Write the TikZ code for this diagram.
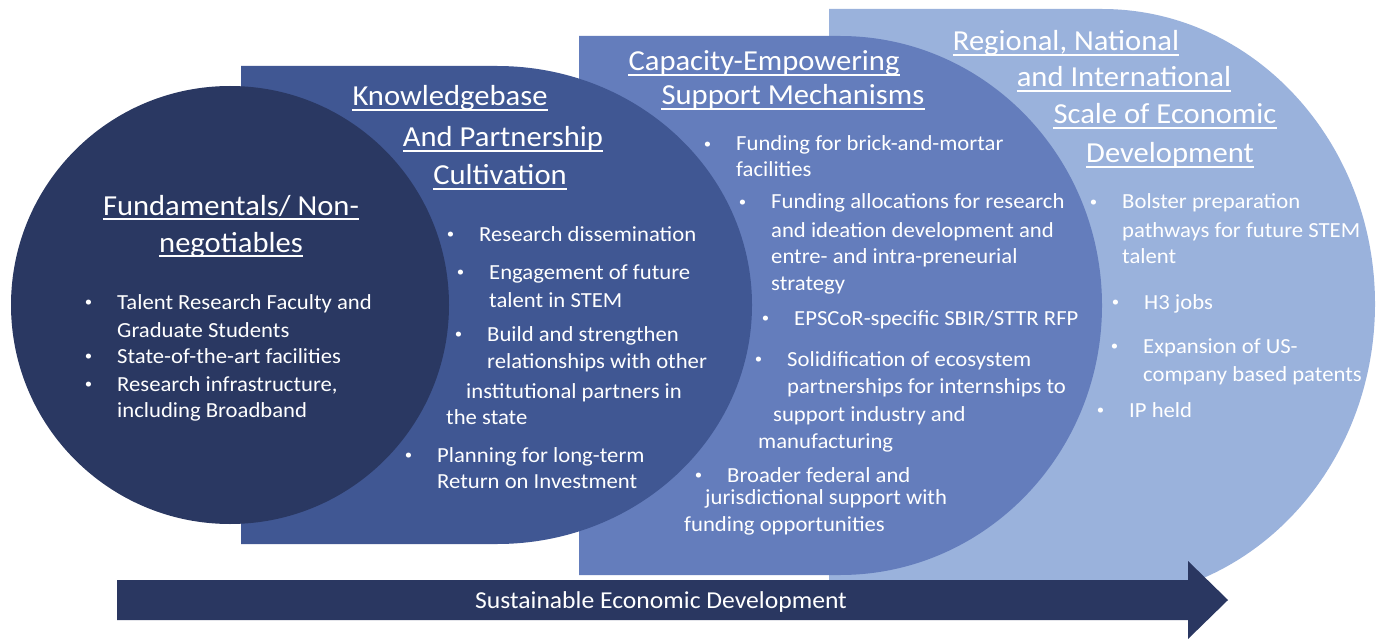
\documentclass[tikz,border=0pt]{standalone}
\usepackage{fontspec}
\setmainfont{Carlito}[FakeStretch=1.055]
\usepackage{tikz}
\usetikzlibrary{calc}
\definecolor{stageOne}{HTML}{2A3862}
\definecolor{stageTwo}{HTML}{405793}
\definecolor{stageThree}{HTML}{647DBC}
\definecolor{stageFour}{HTML}{9AB2DC}
\definecolor{flowNavy}{HTML}{2A3761}
\tikzset{
    x=1pt, y=-1pt,
    headline/.style={anchor=base, text=white, inner sep=0pt, font=\fontsize{29}{35}\selectfont},
    itemline/.style={anchor=base west, text=white, inner sep=0pt, font=\fontsize{21.5}{27}\selectfont},
    rule/.style={draw=white, line width=1.4pt},
}
\newcommand{\bul}{\llap{\raisebox{2.3pt}{\fontsize{14}{14}\selectfont\textbullet}\hspace{25pt}}}

\begin{document}
\begin{tikzpicture}
    \useasboundingbox (0,0) rectangle (1376,639);
    \fill[white] (0,0) rectangle (1376,639);

    % stages, back to front
    \fill[stageFour] (829,9) -- (1102,9) arc[start angle=-90, end angle=90, x radius=273, y radius=295] -- (829,599) -- cycle;
    \fill[stageThree] (579,36) -- (840,36) arc[start angle=-90, end angle=90, x radius=262, y radius=269.5] -- (579,575) -- cycle;
    \fill[stageTwo] (241,66) -- (497,66) arc[start angle=-90, end angle=90, x radius=255, y radius=239] -- (241,544) -- cycle;
    \fill[stageOne] (230,305) circle[radius=219];

    % titles, underlined
    \foreach \x/\y/\t [count=\i] in {231/215/{Fundamentals/ Non-}, 231/252/{negotiables},
            450/106/{Knowledgebase}, 503/147/{And Partnership}, 500/185/{Cultivation},
            764/71/{Capacity-Empowering}, 793/105/{Support Mechanisms},
            1066/51/{Regional, National}, 1124/87/{and International}, 1165/124/{Scale of Economic}, 1170/163/{Development}} {
        \node[headline] (head-\i) at (\x,\y) {\t};
        \draw[rule] ($(head-\i.base west)+(0,4)$) -- ($(head-\i.base east)+(0,4)$);
    }

    % bullet lines
    \foreach \x/\y/\t [count=\i] in {117/309/{\bul Talent Research Faculty and}, 117/337/{Graduate Students},
            117/363/{\bul State-of-the-art facilities}, 117/391/{\bul Research infrastructure,}, 117/417/{including Broadband}} {
        \node[itemline] (one-\i) at (\x,\y) {\t};
    }
    \foreach \x/\y/\t [count=\i] in {479/241/{\bul Research dissemination},
            489/279/{\bul Engagement of future}, 489/307/{talent in STEM},
            487/341/{\bul Build and strengthen}, 487/368/{relationships with other}, 466/398/{institutional partners in}, 446/424/{the state},
            437/462/{\bul Planning for long-term}, 437/488/{Return on Investment}} {
        \node[itemline] (two-\i) at (\x,\y) {\t};
    }
    \foreach \x/\y/\t [count=\i] in {736/151/{\bul Funding for brick-and-mortar}, 736/177/{facilities},
            771/209/{\bul Funding allocations for research}, 771/237/{and ideation development and}, 771/263/{entre- and intra-preneurial}, 771/290/{strategy},
            794/325/{\bul EPSCoR-specific SBIR/STTR RFP},
            787/366/{\bul Solidification of ecosystem}, 787/393/{partnerships for internships to}, 773/421/{support industry and}, 758/448/{manufacturing},
            727/482/{\bul Broader federal and}, 705/504/{jurisdictional support with}, 684/531/{funding opportunities}} {
        \node[itemline] (three-\i) at (\x,\y) {\t};
    }
    \foreach \x/\y/\t [count=\i] in {1122/209/{\bul Bolster preparation}, 1122/237/{pathways for future STEM}, 1122/263/{talent},
            1144/309/{\bul H3 jobs},
            1143/353/{\bul Expansion of US-}, 1143/381/{company based patents},
            1129/417/{\bul IP held}} {
        \node[itemline] (four-\i) at (\x,\y) {\t};
    }

    % direction arrow
    \fill[flowNavy] (117,580) -- (1188,580) -- (1188,561) -- (1228,600) -- (1188,639) -- (1188,620) -- (117,620) -- cycle;
    \node[anchor=base, text=white, inner sep=0pt, font=\fontsize{24.3}{30}\selectfont] (flow) at (661,608) {Sustainable Economic Development};
\end{tikzpicture}
\end{document}
